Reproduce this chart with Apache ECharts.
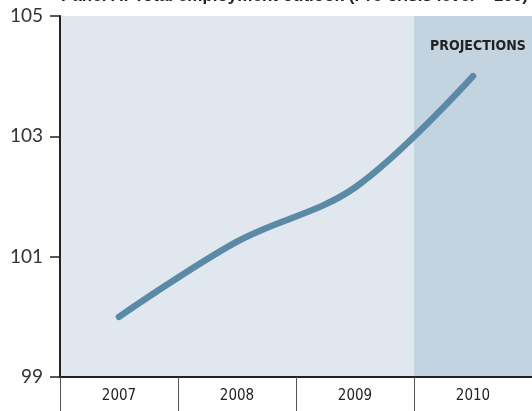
<!DOCTYPE html>
<html>
<head>
<meta charset="utf-8">
<script src="https://cdn.jsdelivr.net/npm/echarts@6/dist/echarts.min.js"></script>
<style>
  html, body { margin: 0; padding: 0; background: #fff; }
  #main { width: 532px; height: 411px; }
</style>
</head>
<body>
<div id="main"></div>
<script>
// years on the x axis
const years = ['2007', '2008', '2009', '2010'];
// total employment index, pre-crisis level = 100
const employment = [100, 101.25, 102.15, 104];
// band colours: last year is a projection
const bandColors = ['#e0e7ef', '#e0e7ef', '#e0e7ef', '#c3d3e0'];

const chart = echarts.init(document.getElementById('main'));

const option = {
  animation: false,
  grid: { left: 60, right: -2, top: 16, bottom: 34 },
  graphic: [
    {
      type: 'text', x: 61, y: -12, z: 100,
      style: {
        text: 'Panel A: Total employment outlook (Pre-crisis level = 100)',
        font: 'bold 17px "Liberation Sans", sans-serif', fill: '#222'
      }
    },
    {
      type: 'text', x: 430, y: 39, z: 100,
      style: {
        text: 'PROJECTIONS',
        font: 'bold 14px "Liberation Sans Narrow", "DejaVu Sans Condensed", sans-serif',
        fill: '#222'
      }
    }
  ],
  xAxis: {
    type: 'category',
    data: years,
    boundaryGap: true,
    axisLine: { lineStyle: { color: '#222', width: 2 } },
    axisTick: { show: true, interval: 0, length: 36, lineStyle: { color: '#555', width: 1 } },
    axisLabel: {
      interval: 0, margin: 12, color: '#222', fontSize: 15,
      fontFamily: '"Liberation Sans Narrow", "DejaVu Sans Condensed", sans-serif'
    },
    splitArea: { show: true, interval: 0, areaStyle: { color: bandColors } },
    splitLine: { show: false }
  },
  yAxis: {
    type: 'value',
    min: 99, max: 105, interval: 2,
    axisLine: { show: true, lineStyle: { color: '#222', width: 2 } },
    axisTick: { show: true, length: 10, lineStyle: { color: '#222', width: 1.5 } },
    axisLabel: { margin: 17, color: '#333', fontSize: 19, fontFamily: 'Lato, sans-serif' },
    splitLine: { show: true, lineStyle: { color: ['transparent', '#999', '#999', 'transparent'], width: 1 } }
  },
  series: [{
    type: 'line',
    data: employment,
    smooth: 0.35,
    symbol: 'none',
    lineStyle: { color: '#5b8aa6', width: 6.5, cap: 'round' }
  }]
};

chart.setOption(option);
</script>
</body>
</html>
